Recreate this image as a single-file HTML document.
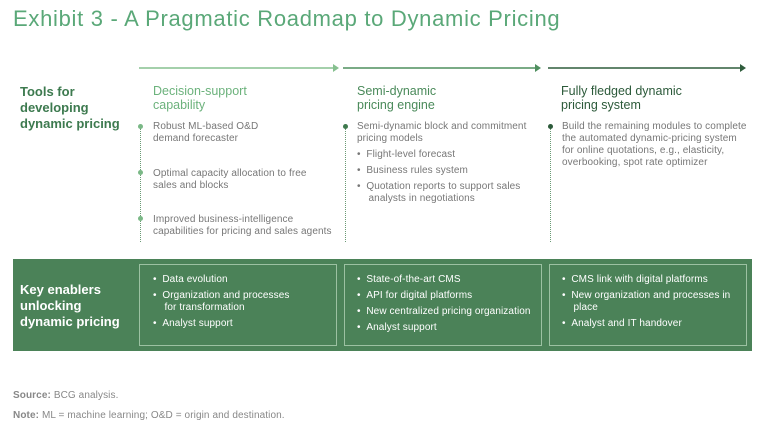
<!DOCTYPE html>
<html><head><meta charset="utf-8"><style>
body{margin:0;width:768px;height:434px;background:#fff;font-family:"Liberation Sans",sans-serif;position:relative;overflow:hidden}
.a{position:absolute;white-space:nowrap}
.t{font-size:10px;color:#777;line-height:12px;letter-spacing:0.1px}
.h{font-size:12.5px;line-height:14px}
.hd{font-weight:bold;color:#3d7a4f;font-size:13px;line-height:16px}
.dl{position:absolute;border-left:1px dotted #6a9a74;width:0}
.dot{position:absolute;width:5px;height:5px;border-radius:50%}
.box{position:absolute;border:1px solid #9cc1a2;top:264px;height:80px}
.w{font-size:10px;color:#fff;line-height:12px;letter-spacing:0.1px}
</style></head><body>
<div class="a" style="left:13px;top:6px;font-size:22px;color:#5aa878;letter-spacing:0.7px">Exhibit 3 - A Pragmatic Roadmap to Dynamic Pricing</div>

<svg class="a" style="left:0;top:0" width="768" height="80">
<line x1="139" y1="68" x2="334" y2="68" stroke="#86c08f" stroke-width="1.5"/><polygon points="333,64 339,68 333,72" fill="#86c08f"/>
<line x1="343" y1="68" x2="536" y2="68" stroke="#4f8f5f" stroke-width="1.5"/><polygon points="535,64 541,68 535,72" fill="#4f8f5f"/>
<line x1="548" y1="68" x2="741" y2="68" stroke="#2f5d3c" stroke-width="1.5"/><polygon points="740,64 746,68 740,72" fill="#2f5d3c"/>
</svg>

<div class="a hd" style="left:20px;top:84px">Tools for<br>developing<br>dynamic pricing</div>
<div class="a h" style="left:153px;top:84px;color:#6cb27c">Decision-support<br>capability</div>
<div class="a h" style="left:357px;top:84px;color:#4a8a5a">Semi-dynamic<br>pricing engine</div>
<div class="a h" style="left:561px;top:84px;color:#2c5a3a">Fully fledged dynamic<br>pricing system</div>

<div class="dl" style="left:140px;top:128px;height:114px"></div>
<div class="dl" style="left:345px;top:128px;height:114px"></div>
<div class="dl" style="left:550px;top:128px;height:114px"></div>
<div class="dot" style="left:138px;top:124px;background:#7ab886"></div>
<div class="dot" style="left:138px;top:170px;background:#7ab886"></div>
<div class="dot" style="left:138px;top:216px;background:#7ab886"></div>
<div class="dot" style="left:343px;top:124px;background:#3f7a4e"></div>
<div class="dot" style="left:548px;top:124px;background:#2c5a3a"></div>

<div class="a t" style="left:153px;top:121px">Robust ML-based O&amp;D<br>demand forecaster</div>
<div class="a t" style="left:153px;top:168px">Optimal capacity allocation to free<br>sales and blocks</div>
<div class="a t" style="left:153px;top:214px">Improved business-intelligence<br>capabilities for pricing and sales agents</div>

<div class="a t" style="left:357px;top:121px">Semi-dynamic block and commitment<br>pricing models</div>
<div class="a t" style="left:357px;top:149px">• &nbsp;Flight-level forecast</div>
<div class="a t" style="left:357px;top:165px">• &nbsp;Business rules system</div>
<div class="a t" style="left:357px;top:181px">• &nbsp;Quotation reports to support sales<br>&nbsp;&nbsp;&nbsp;&nbsp;analysts in negotiations</div>

<div class="a t" style="left:562px;top:121px">Build the remaining modules to complete<br>the automated dynamic-pricing system<br>for online quotations, e.g., elasticity,<br>overbooking, spot rate optimizer</div>

<div class="a" style="left:13px;top:259px;width:739px;height:92px;background:#4b8258"></div>
<div class="a" style="left:20px;top:282px;font-weight:bold;color:#fff;font-size:13px;line-height:16px">Key enablers<br>unlocking<br>dynamic pricing</div>
<div class="box" style="left:139px;width:196px"></div>
<div class="box" style="left:344px;width:196px"></div>
<div class="box" style="left:549px;width:196px"></div>
<div class="a w" style="left:153px;top:274px">• &nbsp;Data evolution</div>
<div class="a w" style="left:153px;top:290px">• &nbsp;Organization and processes<br>&nbsp;&nbsp;&nbsp;&nbsp;for transformation</div>
<div class="a w" style="left:153px;top:318px">• &nbsp;Analyst support</div>
<div class="a w" style="left:357px;top:274px">• &nbsp;State-of-the-art CMS</div>
<div class="a w" style="left:357px;top:290px">• &nbsp;API for digital platforms</div>
<div class="a w" style="left:357px;top:306px">• &nbsp;New centralized pricing organization</div>
<div class="a w" style="left:357px;top:322px">• &nbsp;Analyst support</div>
<div class="a w" style="left:562px;top:274px">• &nbsp;CMS link with digital platforms</div>
<div class="a w" style="left:562px;top:290px">• &nbsp;New organization and processes in<br>&nbsp;&nbsp;&nbsp;&nbsp;place</div>
<div class="a w" style="left:562px;top:318px">• &nbsp;Analyst and IT handover</div>

<div class="a t" style="left:13px;top:390px;color:#888"><b>Source:</b> BCG analysis.</div>
<div class="a t" style="left:13px;top:410px;color:#888"><b>Note:</b> ML = machine learning; O&amp;D = origin and destination.</div>
</body></html>
